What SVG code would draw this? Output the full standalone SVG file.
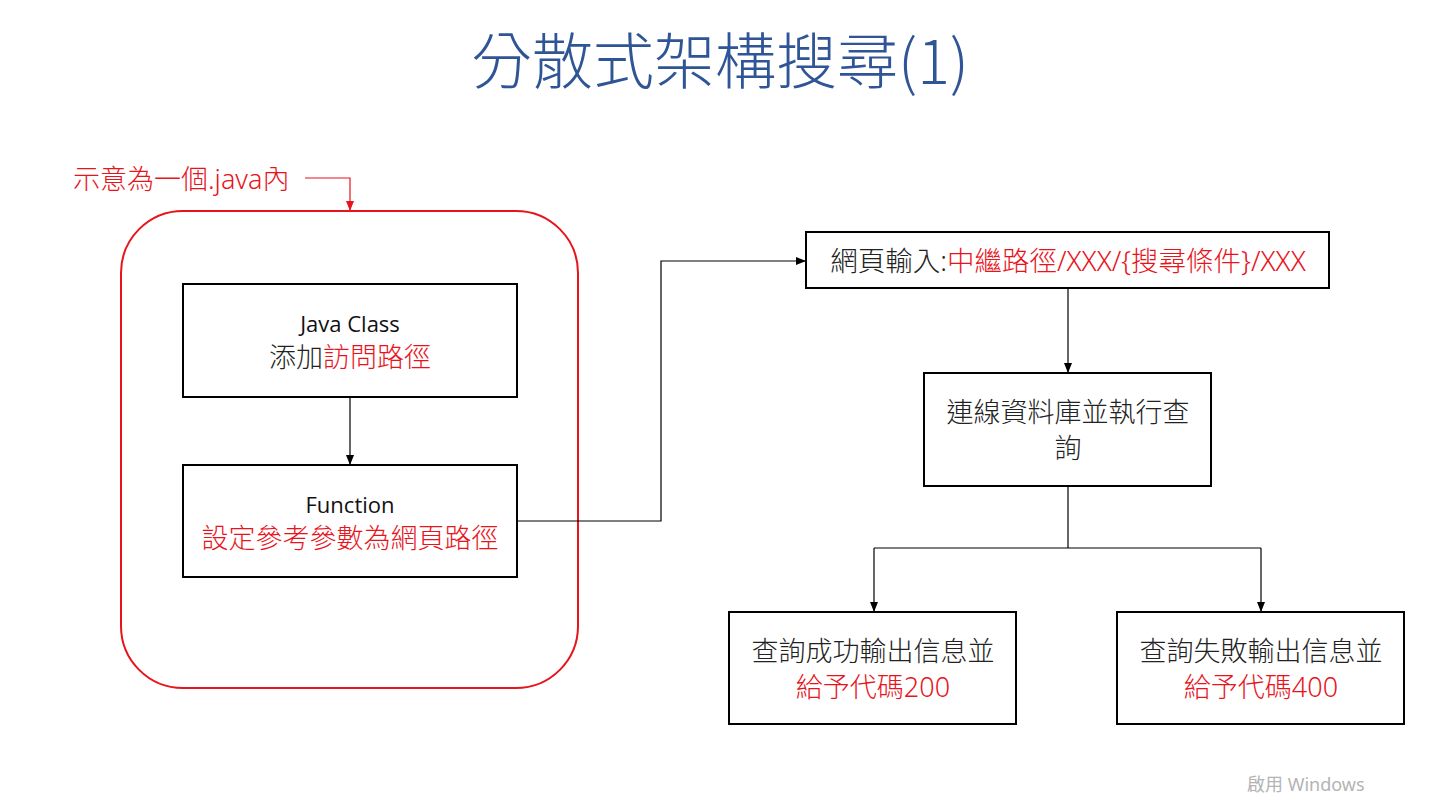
<svg xmlns="http://www.w3.org/2000/svg" width="1443" height="797" viewBox="0 0 1443 797">
<style>
.box{fill:#fff;stroke:#000;stroke-width:2}
.t{font-family:"Noto Sans","Noto Sans CJK TC",sans-serif;font-size:27px;fill:#222;text-anchor:middle;font-weight:300}
.en{font-family:"Open Sans","Noto Sans CJK TC",sans-serif;font-size:22px;fill:#111;text-anchor:middle}
.r{fill:#e8141c}
.ln{fill:none;stroke:#000;stroke-width:1.2}
</style>
<defs>
<marker id="ah" markerWidth="10" markerHeight="10" refX="9" refY="5" orient="auto" markerUnits="userSpaceOnUse">
<path d="M0,1 L10,5 L0,9 Z" fill="#000"/>
</marker>
<marker id="ahr" markerWidth="10" markerHeight="10" refX="9" refY="5" orient="auto" markerUnits="userSpaceOnUse">
<path d="M0,1 L10,5 L0,9 Z" fill="#e8141c"/>
</marker>
</defs>
<rect width="1443" height="797" fill="#fff"/>
<g id="title"><text x="720" y="84" font-family="Noto Sans CJK TC, sans-serif" font-size="61" font-weight="300" fill="#2f5597" text-anchor="middle">分散式架構搜尋(1)</text></g>
<g id="container">
<rect x="121" y="211" width="457" height="477" rx="62" ry="62" fill="none" stroke="#e8141c" stroke-width="2"/>
<text x="73" y="189" font-family="Noto Sans, Noto Sans CJK TC, sans-serif" font-size="27" font-weight="300" fill="#e8141c">示意為一個.java內</text>
</g>
<g id="connectors">
<path class="ln" d="M305,178 H350 V210" style="stroke:#e8141c" marker-end="url(#ahr)"/>
<path class="ln" d="M350,397 V464" marker-end="url(#ah)"/>
<path class="ln" d="M517,521 H661 V261 H805" marker-end="url(#ah)"/>
<path class="ln" d="M1068,288 V372" marker-end="url(#ah)"/>
<path class="ln" d="M1068,486 V548 M874,548 H1261"/>
<path class="ln" d="M874,548 V611" marker-end="url(#ah)"/>
<path class="ln" d="M1261,548 V611" marker-end="url(#ah)"/>
</g>
<g id="javaclass">
<rect class="box" x="183" y="284" width="334" height="113"/>
<text class="en" x="350" y="332">Java Class</text>
<text class="t" x="350" y="367">添加<tspan class="r">訪問路徑</tspan></text>
</g>
<g id="function">
<rect class="box" x="183" y="465" width="334" height="112"/>
<text class="en" x="350" y="513">Function</text>
<text class="t r" x="350" y="548">設定參考參數為網頁路徑</text>
</g>
<g id="webinput">
<rect class="box" x="806" y="232" width="523" height="56"/>
<text class="t" x="1068" y="271" style="font-size:27.5px">網頁輸入:<tspan class="r">中繼路徑/XXX/{搜尋條件}/XXX</tspan></text>
</g>
<g id="query">
<rect class="box" x="924" y="373" width="287" height="113"/>
<text class="t" x="1068" y="422">連線資料庫並執行查</text>
<text class="t" x="1068" y="458">詢</text>
</g>
<g id="success">
<rect class="box" x="729" y="612" width="287" height="112"/>
<text class="t" x="873" y="661">查詢成功輸出信息並</text>
<text class="t r" x="873" y="697">給予代碼200</text>
</g>
<g id="fail">
<rect class="box" x="1117" y="612" width="287" height="112"/>
<text class="t" x="1261" y="661">查詢失敗輸出信息並</text>
<text class="t r" x="1261" y="697">給予代碼400</text>
</g>
<text x="1247" y="791" font-family="Noto Sans, Noto Sans CJK TC, sans-serif" font-size="18" fill="#b4b4b4">啟用 Windows</text>
</svg>
